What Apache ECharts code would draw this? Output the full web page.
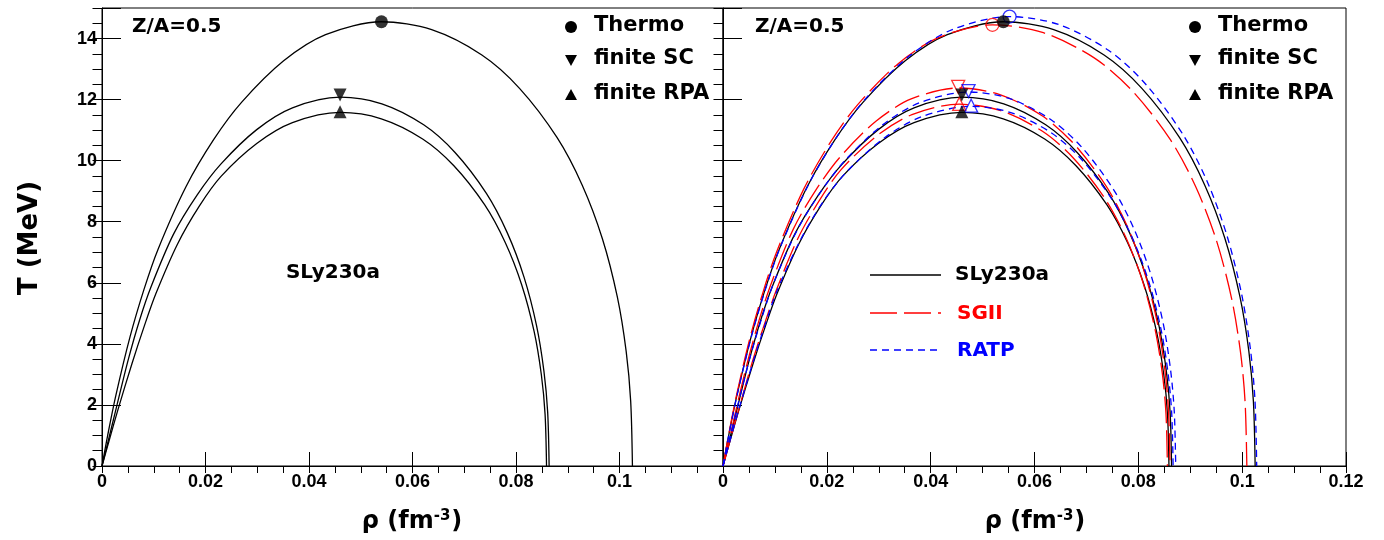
<!DOCTYPE html>
<html><head><meta charset="utf-8">
<script src="https://cdn.jsdelivr.net/npm/echarts@6/dist/echarts.min.js"></script>
<style>html,body{margin:0;padding:0;background:#fff}#c{width:1384px;height:540px}</style>
</head><body><div id="c"></div>
<script>
// ---- data: [rho (fm^-3), T (MeV)] ----
const slyThermo = [[0,0],[0.00108,0.989],[0.0027,2.328],[0.0054,4.22],[0.0081,5.776],[0.0108,7.086],[0.0162,9.137],[0.0216,10.694],[0.027,11.916],[0.0351,13.27],[0.0432,14.128],[0.054,14.55],
  [0.0637,14.288],[0.0734,13.459],[0.08068,12.368],[0.08795,10.752],[0.0928,9.196],[0.09668,7.45],[0.09959,5.529],[0.10129,3.754],[0.10216,2.124],[0.1025,0]];
const slySC = [[0,0],[0.0012,0.82],[0.0028,1.93],[0.0051,3.5],[0.0073,4.8],[0.0095,5.88],[0.0138,7.586],[0.0184,8.879],[0.023,9.894],[0.0299,11.017],[0.0368,11.73],[0.046,12.08],
  [0.05408,11.863],[0.06216,11.174],[0.06822,10.268],[0.07428,8.927],[0.07832,7.635],[0.08155,6.185],[0.08398,4.59],[0.08539,3.117],[0.08612,1.764],[0.0864,0]];
const slyRPA = [[0,0],[0.0013,0.787],[0.0031,1.853],[0.0058,3.358],[0.0082,4.597],[0.0104,5.64],[0.0146,7.272],[0.0188,8.511],[0.023,9.484],[0.0299,10.561],[0.0368,11.244],[0.046,11.58],
  [0.05398,11.372],[0.06196,10.712],[0.06795,9.843],[0.07393,8.558],[0.07792,7.319],[0.08111,5.929],[0.08351,4.4],[0.0849,2.988],[0.08562,1.691],[0.0859,0]];
const sgiiThermo = [[0,0],[0.00104,0.983],[0.0026,2.312],[0.00519,4.191],[0.00779,5.737],[0.01038,7.037],[0.01557,9.075],[0.02076,10.621],[0.02595,11.835],[0.03374,13.178],[0.04152,14.031],[0.0519,14.45],
  [0.0617,14.19],[0.0715,13.366],[0.07885,12.283],[0.0862,10.679],[0.0911,9.132],[0.09502,7.398],[0.09796,5.491],[0.09968,3.728],[0.10056,2.11],[0.1009,0]];
const sgiiSC = [[0,0],[0.0012,0.842],[0.0027,1.981],[0.005,3.59],[0.0072,4.915],[0.0094,6.029],[0.01359,7.775],[0.01812,9.099],[0.02265,10.139],[0.02945,11.29],[0.03624,12.021],[0.0453,12.38],
  [0.05346,12.157],[0.06162,11.452],[0.06774,10.523],[0.07386,9.149],[0.07794,7.824],[0.0812,6.339],[0.08365,4.704],[0.08508,3.194],[0.08581,1.807],[0.0861,0]];
const sgiiRPA = [[0,0],[0.0013,0.806],[0.0031,1.896],[0.0057,3.437],[0.0081,4.704],[0.0103,5.771],[0.0144,7.442],[0.0186,8.71],[0.02275,9.705],[0.02958,10.807],[0.0364,11.506],[0.0455,11.85],
  [0.05352,11.637],[0.06154,10.961],[0.06756,10.073],[0.07357,8.757],[0.07758,7.489],[0.08079,6.067],[0.08319,4.503],[0.0846,3.057],[0.08532,1.73],[0.0856,0]];
const ratpThermo = [[0,0],[0.0011,1.001],[0.00276,2.355],[0.00552,4.269],[0.00828,5.844],[0.01104,7.169],[0.01656,9.244],[0.02208,10.819],[0.0276,12.056],[0.03588,13.425],[0.04416,14.293],[0.0552,14.72],
  [0.06472,14.455],[0.07424,13.616],[0.08138,12.512],[0.08852,10.878],[0.0933,9.303],[0.09709,7.537],[0.09994,5.594],[0.10161,3.798],[0.10247,2.149],[0.1028,0]];
const ratpSC = [[0,0],[0.0012,0.833],[0.0028,1.96],[0.0052,3.553],[0.0075,4.863],[0.0097,5.966],[0.01419,7.693],[0.01892,9.004],[0.02365,10.033],[0.03075,11.172],[0.03784,11.895],[0.0473,12.25],
  [0.05528,12.03],[0.06326,11.331],[0.06925,10.413],[0.07523,9.053],[0.07922,7.742],[0.08241,6.272],[0.08481,4.655],[0.0862,3.161],[0.08692,1.789],[0.0872,0]];
const ratpRPA = [[0,0],[0.0013,0.801],[0.0031,1.885],[0.0058,3.416],[0.0082,4.677],[0.0104,5.737],[0.0149,7.398],[0.0193,8.658],[0.0239,9.648],[0.03107,10.743],[0.03824,11.438],[0.0478,11.78],
  [0.05558,11.568],[0.06336,10.897],[0.0692,10.013],[0.07503,8.705],[0.07892,7.445],[0.08203,6.031],[0.08437,4.476],[0.08573,3.039],[0.08643,1.72],[0.0867,0]];
// critical points: [thermo, finite SC, finite RPA]
const slyPeaks  = [[0.054,14.55],[0.046,12.15],[0.046,11.6]];
const sgiiPeaks = [[0.0519,14.45],[0.0453,12.42],[0.0455,11.86]];
const ratpPeaks = [[0.0552,14.72],[0.0473,12.28],[0.0478,11.8]];
// axes
const xRange = [0, 0.12], xMajor = 0.02, xMinor = 0.005;
const yRange = [0, 15], yMajor = 2, yMinor = 0.5;
const modelNames = ['SLy230a', 'SGII', 'RATP'];
const markerNames = ['Thermo', 'finite SC', 'finite RPA'];
const panelLabel = 'Z/A=0.5';

const BLACK = '#000', RED = '#ff0000', BLUE = '#0000ff';
const TICKFONT = 'Liberation Sans';
const TXT = 'DejaVu Sans';

const chart = echarts.init(document.getElementById('c'), null, {renderer: 'canvas'});

function fmtX(v) { return parseFloat(v.toFixed(4)); }
function xAxes(gi, hideLast) {
  return [
    {gridIndex: gi, type: 'value', min: xRange[0], max: xRange[1], interval: xMajor,
     axisLine: {show: true, onZero: false, lineStyle: {color: BLACK, width: 1}},
     axisTick: {show: true, inside: true, length: 14, lineStyle: {color: BLACK, width: 1}},
     splitLine: {show: false},
     axisLabel: {show: true, margin: 7, color: BLACK, fontFamily: TICKFONT, fontWeight: 'bold', fontSize: 18,
       formatter: v => (hideLast && v > 0.119) ? '' : String(fmtX(v))}},
    {gridIndex: gi, type: 'value', min: xRange[0], max: xRange[1], interval: xMinor,
     axisLine: {show: false}, axisLabel: {show: false}, splitLine: {show: false},
     axisTick: {show: true, inside: true, length: 7, lineStyle: {color: BLACK, width: 1}}}
  ];
}
function yAxes(gi, showLabels) {
  return [
    {gridIndex: gi, type: 'value', min: yRange[0], max: yRange[1], interval: yMajor,
     axisLine: {show: true, onZero: false, lineStyle: {color: BLACK, width: 1}},
     axisTick: {show: true, inside: true, length: 19, lineStyle: {color: BLACK, width: 1}},
     splitLine: {show: false},
     axisLabel: {show: showLabels, margin: 5, color: BLACK, fontFamily: TICKFONT, fontWeight: 'bold', fontSize: 18,
       formatter: v => v > 14.5 ? '' : String(v)}},
    {gridIndex: gi, type: 'value', min: yRange[0], max: yRange[1], interval: yMinor,
     axisLine: {show: false}, axisLabel: {show: false}, splitLine: {show: false},
     axisTick: {show: true, inside: true, length: 9.5, lineStyle: {color: BLACK, width: 1}}}
  ];
}

function curve(data, xi, yi, color, type) {
  return {type: 'line', data, xAxisIndex: xi, yAxisIndex: yi, showSymbol: false, symbol: 'none',
    smooth: 0.3, silent: true, z: 3,
    lineStyle: {color, width: 1.3, type}};
}
function marks(peaks, xi, yi, color, hollow) {
  const syms = ['circle', 'triangle', 'triangle'];
  const rot = [0, 180, 0];
  const sizes = [13, 13, 13];
  return peaks.map((p, i) => ({
    type: 'scatter', data: [p], xAxisIndex: xi, yAxisIndex: yi, symbol: syms[i], symbolRotate: rot[i],
    symbolSize: sizes[i], silent: true, z: hollow ? 5 : 6,
    itemStyle: hollow ? {color: 'rgba(0,0,0,0)', borderColor: color, borderWidth: 1.3} : {color: color}
  }));
}

const series = [
  curve(slyThermo, 0, 0, BLACK, 'solid'), curve(slySC, 0, 0, BLACK, 'solid'), curve(slyRPA, 0, 0, BLACK, 'solid'),
  ...marks(slyPeaks, 0, 0, BLACK, false),
  curve(slyThermo, 2, 2, BLACK, 'solid'), curve(slySC, 2, 2, BLACK, 'solid'), curve(slyRPA, 2, 2, BLACK, 'solid'),
  curve(sgiiThermo, 2, 2, RED, [27, 7]), curve(sgiiSC, 2, 2, RED, [27, 7]), curve(sgiiRPA, 2, 2, RED, [27, 7]),
  curve(ratpThermo, 2, 2, BLUE, [7, 5]), curve(ratpSC, 2, 2, BLUE, [7, 5]), curve(ratpRPA, 2, 2, BLUE, [7, 5]),
  ...marks(sgiiPeaks, 2, 2, RED, true),
  ...marks(ratpPeaks, 2, 2, BLUE, true),
  ...marks(slyPeaks, 2, 2, BLACK, false)
];

function markerLegend(x0) {
  const font = 'bold 21px "' + TXT + '"';
  const ys = [27, 60, 95];
  const g = [];
  g.push({type: 'circle', shape: {cx: x0, cy: ys[0], r: 6}, style: {fill: BLACK}});
  g.push({type: 'polygon', shape: {points: [[x0 - 6, ys[1] - 5], [x0 + 6, ys[1] - 5], [x0, ys[1] + 6]]}, style: {fill: BLACK}});
  g.push({type: 'polygon', shape: {points: [[x0 - 6, ys[2] + 5], [x0 + 6, ys[2] + 5], [x0, ys[2] - 6]]}, style: {fill: BLACK}});
  markerNames.forEach((n, i) => g.push({type: 'text', x: x0 + 23, y: ys[i] - 1,
    style: {text: n, font, fill: BLACK, align: 'left', verticalAlign: 'middle'}}));
  return g;
}
function xTitle(cx) {
  return {type: 'text', x: cx, y: 522, style: {
    text: '{a|ρ (fm}{b|-3}{a|)}', align: 'center', verticalAlign: 'middle',
    rich: {a: {fontFamily: TXT, fontWeight: 'bold', fontSize: 24, fill: BLACK, lineHeight: 30},
           b: {fontFamily: TXT, fontWeight: 'bold', fontSize: 15, fill: BLACK, verticalAlign: 'bottom', padding: [0, 1, 13, 0], lineHeight: 30}}}};
}
const bold20 = 'bold 20px "' + TXT + '"';
const graphic = [
  ...markerLegend(571), ...markerLegend(1195),
  {type: 'text', x: 132, y: 27, style: {text: panelLabel, font: bold20, fill: BLACK, align: 'left', verticalAlign: 'middle'}},
  {type: 'text', x: 755, y: 27, style: {text: panelLabel, font: bold20, fill: BLACK, align: 'left', verticalAlign: 'middle'}},
  {type: 'text', x: 333, y: 273, style: {text: modelNames[0], font: bold20, fill: BLACK, align: 'center', verticalAlign: 'middle'}},
  {type: 'line', shape: {x1: 870, y1: 275, x2: 941, y2: 275}, style: {stroke: BLACK, lineWidth: 1.3}},
  {type: 'line', shape: {x1: 870, y1: 313, x2: 941, y2: 313}, style: {stroke: RED, lineWidth: 1.3, lineDash: [27, 7]}},
  {type: 'line', shape: {x1: 870, y1: 350, x2: 941, y2: 350}, style: {stroke: BLUE, lineWidth: 1.3, lineDash: [7, 5]}},
  {type: 'text', x: 955, y: 275, style: {text: modelNames[0], font: bold20, fill: BLACK, align: 'left', verticalAlign: 'middle'}},
  {type: 'text', x: 957, y: 314, style: {text: modelNames[1], font: bold20, fill: RED, align: 'left', verticalAlign: 'middle'}},
  {type: 'text', x: 957, y: 351, style: {text: modelNames[2], font: bold20, fill: BLUE, align: 'left', verticalAlign: 'middle'}},
  {type: 'text', x: 30, y: 238, rotation: Math.PI / 2, style: {text: 'T (MeV)', font: 'bold 26px "' + TXT + '"', fill: BLACK, align: 'center', verticalAlign: 'middle'}},
  xTitle(412), xTitle(1035)
];

chart.setOption({
  animation: false,
  backgroundColor: '#fff',
  grid: [
    {left: 102, top: 8, width: 621, height: 458, show: true, borderColor: BLACK, borderWidth: 1, backgroundColor: 'transparent'},
    {left: 723, top: 8, width: 623, height: 458, show: true, borderColor: BLACK, borderWidth: 1, backgroundColor: 'transparent'}
  ],
  xAxis: [...xAxes(0, true), ...xAxes(1, false)],
  yAxis: [...yAxes(0, true), ...yAxes(1, false)],
  series,
  graphic
});
</script></body></html>
